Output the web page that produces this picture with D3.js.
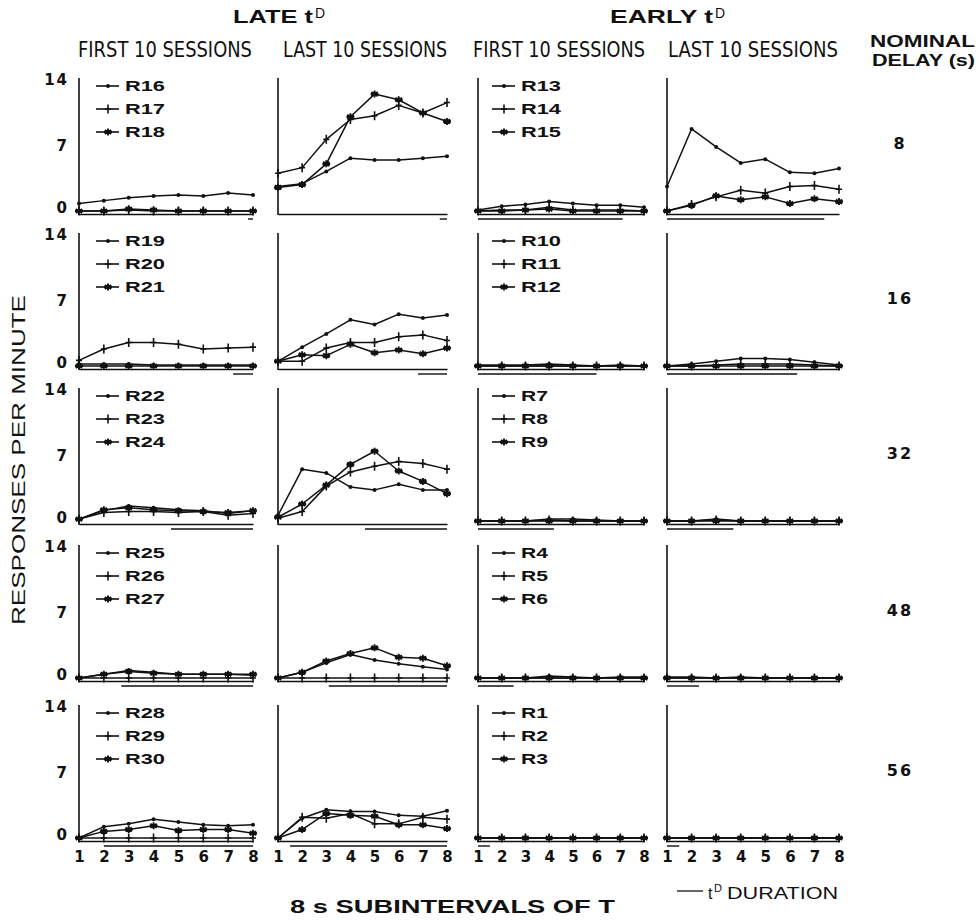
<!DOCTYPE html>
<html lang="en">
<head>
<meta charset="utf-8">
<title>Responses per minute across subintervals</title>
<script src="https://cdn.jsdelivr.net/npm/d3@7"></script>
<style>
  body { margin: 0; background: #fff; }
  svg { display: block; }
  text { fill: #111; }
</style>
</head>
<body>
<div id="chart"></div>
<script>

// ---- data ----
var subintervals = [1, 2, 3, 4, 5, 6, 7, 8];
var delays = [8, 16, 32, 48, 56];
var yTicks = [0, 7, 14];
var sessionHeads = ["FIRST 10 SESSIONS", "LAST 10 SESSIONS", "FIRST 10 SESSIONS", "LAST 10 SESSIONS"];

var lateSubjects = [["R16", "R17", "R18"], ["R19", "R20", "R21"], ["R22", "R23", "R24"], ["R25", "R26", "R27"], ["R28", "R29", "R30"]];
var earlySubjects = [["R13", "R14", "R15"], ["R10", "R11", "R12"], ["R7", "R8", "R9"], ["R4", "R5", "R6"], ["R1", "R2", "R3"]];

// delay 8
var lateFirst8 = [[0.8, 1.1, 1.4, 1.6, 1.7, 1.6, 1.9, 1.7], [0, 0, 0.1, 0, 0, 0, 0, 0], [0, 0, 0.2, 0.1, 0, 0, 0, 0]];
var lateLast8 = [[2.6, 2.9, 4.2, 5.6, 5.4, 5.4, 5.6, 5.8], [4.0, 4.6, 7.6, 9.7, 10.1, 11.2, 10.4, 11.5], [2.5, 2.8, 5.0, 10.0, 12.4, 11.8, 10.4, 9.5]];
var earlyFirst8 = [[0.1, 0.5, 0.7, 1.0, 0.8, 0.6, 0.6, 0.4], [0, 0.1, 0.1, 0.4, 0.1, 0.1, 0.1, 0], [0, 0, 0.1, 0.2, 0, 0, 0, 0]];
var earlyLast8 = [[2.6, 8.7, 6.8, 5.1, 5.5, 4.1, 4.0, 4.5], [0, 0.7, 1.5, 2.2, 1.9, 2.6, 2.7, 2.3], [0, 0.6, 1.6, 1.2, 1.5, 0.8, 1.3, 1.0]];
// delay 16
var lateFirst16 = [[0.2, 0.2, 0.2, 0.1, 0.1, 0.1, 0.1, 0.1], [0.6, 1.8, 2.5, 2.5, 2.3, 1.8, 1.9, 2.0], [0, 0, 0, 0, 0, 0, 0, 0]];
var lateLast16 = [[0.5, 2.0, 3.4, 4.9, 4.4, 5.5, 5.1, 5.4], [0.5, 0.5, 1.9, 2.5, 2.5, 3.1, 3.3, 2.7], [0.5, 1.2, 1.1, 2.3, 1.4, 1.7, 1.3, 1.9]];
var earlyFirst16 = [[0.1, 0.1, 0.1, 0.2, 0.1, 0, 0.1, 0], [0, 0, 0, 0, 0, 0, 0, 0], [0, 0, 0, 0, 0, 0, 0, 0]];
var earlyLast16 = [[0, 0.2, 0.5, 0.8, 0.8, 0.7, 0.4, 0.1], [0, 0, 0.1, 0.2, 0.2, 0.2, 0.1, 0], [0, 0, 0, 0, 0, 0, 0, 0]];
// delay 32
var lateFirst32 = [[0.2, 1.1, 1.6, 1.4, 1.2, 1.1, 0.8, 1.1], [0.2, 0.9, 1.0, 1.0, 0.9, 1.0, 0.6, 0.8], [0.2, 1.2, 1.4, 1.2, 1.1, 1.0, 0.9, 1.1]];
var lateLast32 = [[0.6, 5.5, 5.1, 3.6, 3.3, 3.9, 3.3, 3.3], [0.3, 1.0, 3.7, 5.2, 5.8, 6.3, 6.1, 5.5], [0.4, 1.8, 3.8, 6.0, 7.4, 5.3, 4.2, 2.9]];
var earlyFirst32 = [[0, 0, 0, 0.2, 0.2, 0.1, 0, 0], [0, 0, 0, 0.1, 0, 0, 0, 0], [0, 0, 0, 0, 0, 0, 0, 0]];
var earlyLast32 = [[0, 0, 0.2, 0, 0, 0, 0, 0], [0, 0, 0.1, 0, 0, 0, 0, 0], [0, 0, 0, 0, 0, 0, 0, 0]];
// delay 48
var lateFirst48 = [[0, 0.4, 0.8, 0.6, 0.4, 0.4, 0.4, 0.3], [0, 0, 0, 0, 0, 0, 0, 0], [0, 0.4, 0.7, 0.5, 0.4, 0.4, 0.4, 0.4]];
var lateLast48 = [[0, 0.6, 1.6, 2.5, 1.9, 1.5, 1.2, 0.9], [0, 0, 0, 0, 0, 0, 0, 0], [0, 0.6, 1.8, 2.6, 3.2, 2.2, 2.1, 1.3]];
var earlyFirst48 = [[0, 0, 0, 0.2, 0.1, 0, 0.1, 0.1], [0, 0, 0, 0, 0, 0, 0, 0], [0, 0, 0, 0, 0, 0, 0, 0]];
var earlyLast48 = [[0.1, 0.1, 0, 0.1, 0, 0, 0, 0], [0, 0, 0, 0, 0, 0, 0, 0], [0, 0, 0, 0, 0, 0, 0, 0]];
// delay 56
var lateFirst56 = [[0, 1.2, 1.5, 2.0, 1.7, 1.4, 1.3, 1.4], [0, 0, 0, 0, 0, 0, 0, 0], [0, 0.7, 0.9, 1.3, 0.8, 0.9, 0.9, 0.5]];
var lateLast56 = [[0, 2.1, 3.0, 2.8, 2.8, 2.4, 2.3, 2.9], [0, 2.2, 2.1, 2.6, 1.5, 1.5, 2.2, 2.0], [0, 0.9, 2.6, 2.4, 2.3, 1.4, 1.4, 1.0]];
var earlyFirst56 = [[0, 0, 0, 0, 0, 0, 0, 0], [0, 0, 0, 0, 0, 0, 0, 0], [0, 0, 0, 0, 0, 0, 0, 0]];
var earlyLast56 = [[0, 0, 0, 0, 0, 0, 0, 0], [0, 0, 0, 0, 0, 0, 0, 0], [0, 0, 0, 0, 0, 0, 0, 0]];

// tD duration, in subinterval units, one per delay
var lateFirstDur = [[7.8, 8], [7.2, 8], [4.7, 8], [2.7, 8], [2.0, 8]];
var lateLastDur = [[7.7, 8], [6.8, 8], [4.6, 8], [3.1, 8], [1.5, 8]];
var earlyFirstDur = [[1, 7.1], [1, 6.0], [1, 4.2], [1, 2.5], [1, 1.5]];
var earlyLastDur = [[1, 7.4], [1, 6.3], [1, 3.7], [1, 2.3], [1, 1.5]];

var panels = [
  [lateFirst8, lateLast8, earlyFirst8, earlyLast8],
  [lateFirst16, lateLast16, earlyFirst16, earlyLast16],
  [lateFirst32, lateLast32, earlyFirst32, earlyLast32],
  [lateFirst48, lateLast48, earlyFirst48, earlyLast48],
  [lateFirst56, lateLast56, earlyFirst56, earlyLast56]
];
var durations = [lateFirstDur, lateLastDur, earlyFirstDur, earlyLastDur];

// ---- layout ----
var W = 977, H = 920;
var colX = [79, 278, 478, 667];
var colW = [174, 169, 166, 172];
var rowY = [211, 366, 521, 678, 838];   // where 0 sits in each row
var plotH = 132;                          // 0 -> 14
var legendDy = [7, 30, 53];

var sans = "'Liberation Sans', Arial, sans-serif";
var narrow = "'Liberation Sans Narrow', 'DejaVu Sans Condensed', sans-serif";
var digits = "'DejaVu Sans', sans-serif";

var svg = d3.select("#chart")
  .append("svg")
  .attr("width", W)
  .attr("height", H);

// marker drawing: 0 = dot, 1 = plus, 2 = asterisk
function drawMarker(sel, type) {
  if (type === 0) {
    sel.append("circle").attr("r", 2).attr("fill", "#111");
  } else if (type === 1) {
    sel.append("path")
      .attr("d", "M0,-4.5L0,4.5M-3,0L3,0")
      .attr("stroke", "#111").attr("stroke-width", 1.6).attr("fill", "none");
  } else {
    sel.append("path")
      .attr("d", "M0,-3.5L0,3.5M-3.2,-2L3.2,2M-3.2,2L3.2,-2M-4,0L4,0")
      .attr("stroke", "#111").attr("stroke-width", 1.9).attr("fill", "none");
    sel.append("rect").attr("x", -2).attr("y", -1.6).attr("width", 4).attr("height", 3.2).attr("fill", "#111");
  }
}

panels.forEach(function(row, r) {
  row.forEach(function(series, c) {

    var x = d3.scaleLinear().domain([1, 8]).range([colX[c], colX[c] + colW[c]]);
    var y = d3.scaleLinear().domain([0, 14]).range([rowY[r], rowY[r] - plotH]);

    var g = svg.append("g");

    // vertical axis line
    g.append("line")
      .attr("x1", x(1)).attr("x2", x(1))
      .attr("y1", y(14) - 1).attr("y2", y(0) + 4)
      .attr("stroke", "#111").attr("stroke-width", 1.6);

    // y labels only in the first column
    if (c === 0) {
      var ya = g.append("g")
        .attr("transform", "translate(" + x(1) + ",0)")
        .call(d3.axisLeft(y).tickValues(yTicks).tickSize(0).tickPadding(10));
      ya.select(".domain").remove();
      ya.selectAll("text")
        .attr("font-family", digits).attr("font-weight", "bold")
        .attr("font-size", 15).attr("letter-spacing", 2)
        .attr("dy", function(d) { return d === 0 ? "0.1em" : "0.35em"; })
        .style("fill", "#111");
    }

    // baseline / x axis
    var xa = g.append("g")
      .attr("transform", "translate(0," + (y(0) + 3) + ")")
      .call(d3.axisBottom(x).tickValues(subintervals).tickSize(0).tickSizeOuter(0).tickPadding(10)
        .tickFormat(r === 4 ? d3.format("d") : function() { return ""; }));
    xa.select(".domain").attr("stroke", "#111").attr("stroke-width", 1.4);
    xa.selectAll("text")
      .attr("font-family", digits).attr("font-weight", "bold")
      .attr("font-size", 15)
      .style("fill", "#111");

    // tD duration bar under the baseline
    var dur = durations[c][r];
    g.append("line")
      .attr("x1", x(dur[0])).attr("x2", x(dur[1]))
      .attr("y1", y(0) + 8).attr("y2", y(0) + 8)
      .attr("stroke", "#111").attr("stroke-width", 1.4);

    // series
    var line = d3.line()
      .x(function(d, i) { return x(subintervals[i]); })
      .y(function(d) { return y(d); });

    series.forEach(function(vals, k) {
      g.append("path")
        .datum(vals)
        .attr("d", line)
        .attr("fill", "none")
        .attr("stroke", "#111")
        .attr("stroke-width", 1.5)
        .attr("stroke-linejoin", "round");

      g.selectAll(".m" + k)
        .data(vals)
        .enter().append("g")
        .attr("class", "m" + k)
        .attr("transform", function(d, i) { return "translate(" + x(subintervals[i]) + "," + y(d) + ")"; })
        .each(function() { drawMarker(d3.select(this), k); });
    });

    // legend in the first-sessions panels
    if (c === 0 || c === 2) {
      var names = c === 0 ? lateSubjects[r] : earlySubjects[r];
      var lx = c === 0 ? 96 : 492;
      names.forEach(function(name, k) {
        var ly = y(14) + legendDy[k];
        g.append("line")
          .attr("x1", lx).attr("x2", lx + 23)
          .attr("y1", ly).attr("y2", ly)
          .attr("stroke", "#111").attr("stroke-width", 1.6);
        var mk = g.append("g").attr("transform", "translate(" + (lx + 12) + "," + ly + ")");
        drawMarker(mk, k);
        g.append("text")
          .attr("x", lx + 29).attr("y", ly + 5)
          .attr("font-family", sans).attr("font-weight", "bold").attr("font-size", 14)
          .attr("textLength", name.length === 2 ? 27 : 40)
          .attr("lengthAdjust", "spacingAndGlyphs")
          .text(name);
      });
    }

    // nominal delay value
    if (c === 3) {
      svg.append("text")
        .attr("x", 900).attr("y", y(7) - 2)
        .attr("dy", "0.35em")
        .attr("text-anchor", "middle")
        .attr("font-family", digits).attr("font-weight", "bold")
        .attr("font-size", 16).attr("letter-spacing", 2)
        .text(delays[r]);
    }
  });
});

// ---- headings ----
function supLabel(x0, len, main) {
  svg.append("text")
    .attr("x", x0).attr("y", 23)
    .attr("font-family", sans).attr("font-weight", "bold").attr("font-size", 18)
    .attr("textLength", len).attr("lengthAdjust", "spacingAndGlyphs")
    .text(main + " t");
  svg.append("text")
    .attr("x", x0 + len + 2).attr("y", 18)
    .attr("font-family", sans).attr("font-size", 14)
    .text("D");
}
supLabel(233, 80, "LATE");
supLabel(610, 103, "EARLY");

var headX = [78, 283, 473, 668];
var headLen = [174, 164, 172, 170];
sessionHeads.forEach(function(t, i) {
  svg.append("text")
    .attr("x", headX[i]).attr("y", 57)
    .attr("font-family", narrow).attr("font-size", 21)
    .attr("textLength", headLen[i]).attr("lengthAdjust", "spacingAndGlyphs")
    .text(t);
});

svg.append("text")
  .attr("x", 870).attr("y", 47)
  .attr("font-family", sans).attr("font-weight", "bold").attr("font-size", 17)
  .attr("textLength", 105).attr("lengthAdjust", "spacingAndGlyphs")
  .text("NOMINAL");
svg.append("text")
  .attr("x", 872).attr("y", 66)
  .attr("font-family", sans).attr("font-weight", "bold").attr("font-size", 17)
  .attr("textLength", 103).attr("lengthAdjust", "spacingAndGlyphs")
  .text("DELAY (s)");

// y title
svg.append("text")
  .attr("transform", "translate(25,460) rotate(-90)")
  .attr("text-anchor", "middle")
  .attr("font-family", sans).attr("font-size", 18)
  .attr("textLength", 330).attr("lengthAdjust", "spacingAndGlyphs")
  .text("RESPONSES PER MINUTE");

// x title
svg.append("text")
  .attr("x", 290).attr("y", 913)
  .attr("font-family", sans).attr("font-weight", "bold").attr("font-size", 18)
  .attr("textLength", 325).attr("lengthAdjust", "spacingAndGlyphs")
  .text("8 s SUBINTERVALS OF T");

// tD duration key
svg.append("line")
  .attr("x1", 677).attr("x2", 703)
  .attr("y1", 891).attr("y2", 891)
  .attr("stroke", "#111").attr("stroke-width", 1.3);
svg.append("text")
  .attr("x", 708).attr("y", 899)
  .attr("font-family", sans).attr("font-size", 16)
  .text("t");
svg.append("text")
  .attr("x", 714).attr("y", 892)
  .attr("font-family", sans).attr("font-size", 11)
  .text("D");
svg.append("text")
  .attr("x", 727).attr("y", 899)
  .attr("font-family", sans).attr("font-size", 16)
  .attr("textLength", 111).attr("lengthAdjust", "spacingAndGlyphs")
  .text("DURATION");

</script>
</body>
</html>
